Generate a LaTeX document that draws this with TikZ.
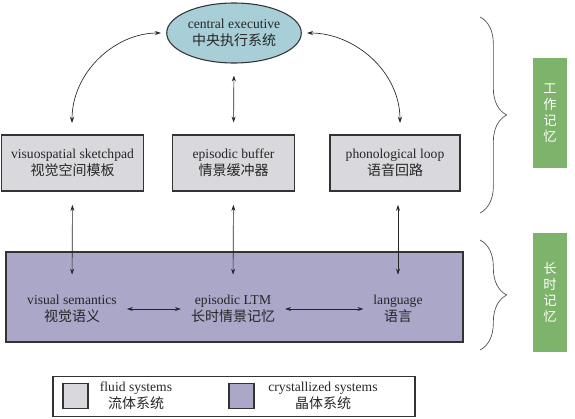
\documentclass[tikz,border=0pt]{standalone}
\usepackage{fontspec}
\setmainfont{Liberation Serif}
\newfontfamily\cjk{Noto Sans CJK SC}
\usepackage{tikz}
\usetikzlibrary{positioning, arrows.meta, shapes.geometric, decorations.pathreplacing}
\definecolor{execblue}{RGB}{168,206,216}
\definecolor{fluidgray}{RGB}{216,216,221}
\definecolor{crystpurple}{RGB}{170,167,201}
\definecolor{tagreen}{RGB}{125,179,106}
\newcommand{\zh}[1]{{\cjk\fontsize{10.5}{12}\selectfont #1}}

\begin{document}
\begin{tikzpicture}[x=0.75pt, y=-0.75pt,
  every node/.style={font=\fontsize{10.2}{12.5}\selectfont, align=center, text=black!85},
  fluid/.style={draw=black!80, line width=0.8pt, fill=fluidgray, minimum height=42pt},
  cryst/.style={draw=black!80, line width=0.8pt, fill=crystpurple},
  memtag/.style={fill=tagreen, text=white, minimum width=25.5pt, font=\cjk\fontsize{10}{12}\selectfont},
  link/.style={{Stealth[length=4.5pt,width=3pt]}-{Stealth[length=4.5pt,width=3pt]}, line width=0.5pt, black!85},
  bracket/.style={decorate, decoration={brace, amplitude=20pt}, line width=0.5pt, black!70}]
\useasboundingbox (0,0) rectangle (575,418);

% Working memory
\node[ellipse, draw=black!80, line width=0.8pt, fill=execblue, minimum width=90pt, minimum height=45pt, inner sep=1pt] (ce) at (234,33) {central executive\\\zh{中央执行系统}};
\node[fluid, minimum width=106pt] (vsk) at (72.5,163) {visuospatial sketchpad\\\zh{视觉空间模板}};
\node[fluid, minimum width=91pt] (buf) at (233.5,163) {episodic buffer\\\zh{情景缓冲器}};
\node[fluid, minimum width=97.5pt] (pl) at (395,163) {phonological loop\\\zh{语音回路}};

% Long-term memory
\node[cryst, minimum width=342.75pt, minimum height=67.5pt] (ltm) at (234.5,297) {};
\node (vsem) at (72,309) {visual semantics\\\zh{视觉语义}};
\node (eltm) at (233,309) {episodic LTM\\\zh{长时情景记忆}};
\node (lang) at (398,309) {language\\\zh{语言}};

% Links
\draw[link, shorten <=4pt] (ce.west) to[out=180, in=90] (72,123);
\draw[link, shorten <=4pt] (ce.east) to[out=0, in=90] (400,123);
\draw[link, shorten <=9pt, shorten >=9pt] (ce.south) -- (buf.north);
\draw[link, shorten <=10pt, shorten >=12pt] (vsk.south) -- (vsem.north);
\draw[link, shorten <=10pt, shorten >=12pt] (buf.south) -- (eltm.north);
\draw[link, shorten <=10pt, shorten >=12pt] (pl.south -| lang) -- (lang.north);
\draw[link, shorten <=4pt, shorten >=4pt] (vsem.east) -- (eltm.west);
\draw[link, shorten <=4pt, shorten >=4pt] (eltm.east) -- (lang.west);

% Braces and tags
\draw[bracket] (480,17) -- (480,213);
\draw[bracket] (480,240) -- (480,350);
\node[memtag, minimum height=82.5pt] (wm) at (550,113) {工\\作\\记\\忆};
\node[memtag, minimum height=89pt] (lm) at (550,292.5) {长\\时\\记\\忆};

% Legend
\node[draw=black!80, line width=0.8pt, minimum width=271.5pt, minimum height=30.5pt] (legend) at (234,396.5) {};
\node[fluid, minimum width=18.75pt, minimum height=18.75pt] (keyf) at (75.5,396) {};
\node[inner sep=1pt] (keyft) at (136,396) {fluid systems\\\zh{流体系统}};
\node[cryst, minimum width=18.75pt, minimum height=18.75pt] (keyc) at (241.5,396) {};
\node[inner sep=1pt] (keyct) at (323,396) {crystallized systems\\\zh{晶体系统}};
\end{tikzpicture}
\end{document}
